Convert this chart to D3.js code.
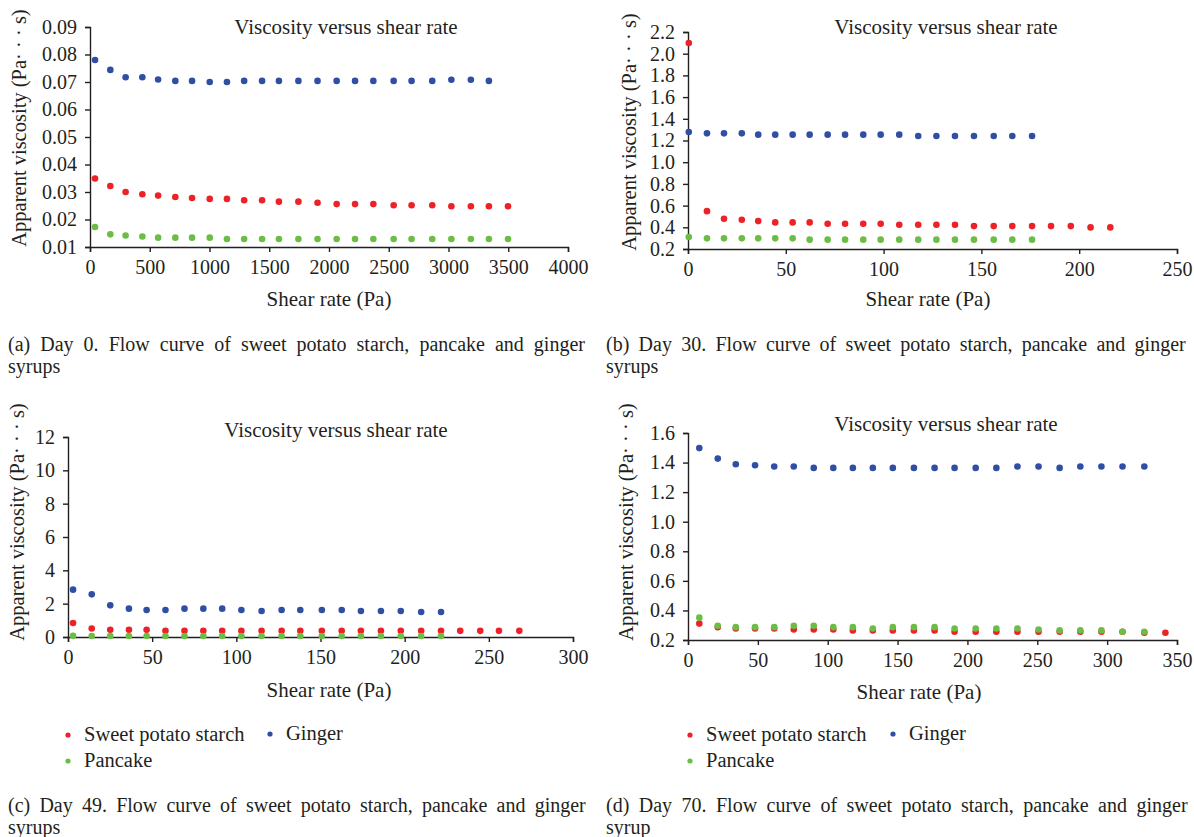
<!DOCTYPE html>
<html>
<head>
<meta charset="utf-8">
<script src="https://cdn.jsdelivr.net/npm/d3@7"></script>
<style>
  body { margin: 0; background: #fff; }
  svg text { font-family: "Liberation Serif", "Times New Roman", "DejaVu Serif", serif; fill: #231f20; }
</style>
</head>
<body>
<svg id="chart" width="1194" height="837"></svg>
<script>
// series labels + colours
const seriesNames = ["Sweet potato starch", "Pancake", "Ginger"];
const seriesColors = ["#ec2227", "#6cbd45", "#2e4fa3"];

// Day 0
const day0Shear = [42,170,298,438,570,714,854,1002,1146,1290,1440,1581,1744,1904,2064,2218,2371,2541,2691,2864,3024,3187,3338,3498];
const day0Sweet = [0.0349,0.0322,0.0300,0.0292,0.0287,0.0282,0.0278,0.0275,0.0275,0.0270,0.0270,0.0265,0.0265,0.0261,0.0256,0.0256,0.0256,0.0252,0.0252,0.0252,0.0248,0.0248,0.0248,0.0248];
const day0Pancake = [0.0173,0.0146,0.0142,0.0138,0.0134,0.0134,0.0134,0.0134,0.0129,0.0129,0.0129,0.0129,0.0129,0.0129,0.0129,0.0129,0.0129,0.0129,0.0129,0.0129,0.0129,0.0129,0.0129,0.0129];
const day0Ginger = [0.0780,0.0744,0.0717,0.0717,0.0709,0.0704,0.0704,0.0700,0.0700,0.0704,0.0704,0.0704,0.0704,0.0704,0.0704,0.0704,0.0704,0.0704,0.0704,0.0704,0.0708,0.0708,0.0704];

// Day 30
const day30Shear = [0.4,9.7,18.4,27.5,35.9,44.6,53.5,62.2,71.4,80.3,89.6,98.5,108.0,117.7,127.0,136.5,146.2,156.3,165.8,175.9,185.6,195.7,205.8,215.9];
const day30Sweet = [2.099,0.549,0.479,0.470,0.457,0.445,0.445,0.445,0.433,0.433,0.433,0.433,0.424,0.424,0.424,0.424,0.411,0.411,0.411,0.411,0.411,0.411,0.399,0.399];
const day30Pancake = [0.310,0.298,0.298,0.298,0.298,0.298,0.298,0.286,0.286,0.286,0.286,0.286,0.286,0.286,0.286,0.286,0.286,0.286,0.286,0.286];
const day30Ginger = [1.278,1.266,1.266,1.266,1.254,1.254,1.254,1.254,1.254,1.254,1.254,1.254,1.254,1.241,1.241,1.241,1.241,1.241,1.241,1.241];

// Day 49
const day49Shear = [3.0,14.1,25.1,36.2,46.7,57.9,69.2,80.4,91.6,103.0,115.0,126.9,138.0,150.8,162.6,174.0,185.9,197.7,209.8,221.6,233.0,244.9,256.0,268.1];
const day49Sweet = [0.84,0.51,0.43,0.43,0.43,0.37,0.37,0.37,0.37,0.37,0.37,0.37,0.37,0.37,0.37,0.37,0.37,0.37,0.37,0.37,0.37,0.37,0.37,0.37];
const day49Pancake = [0.07,0.06,0.06,0.06,0.06,0.06,0.06,0.06,0.06,0.06,0.06,0.06,0.06,0.06,0.06,0.06,0.06,0.06,0.06,0.06];
const day49Ginger = [2.84,2.56,1.90,1.70,1.62,1.62,1.70,1.70,1.70,1.62,1.56,1.62,1.62,1.62,1.62,1.56,1.56,1.56,1.50,1.50];

// Day 70
const day70Shear = [8.1,21.3,34.2,48.0,61.7,75.7,90.0,104.0,118.0,132.3,146.6,161.7,176.5,190.8,205.9,220.7,235.8,250.9,266.0,280.8,295.9,311.0,326.6,341.7];
const day70Sweet = [0.311,0.287,0.278,0.278,0.278,0.271,0.271,0.271,0.265,0.265,0.265,0.265,0.265,0.256,0.256,0.256,0.256,0.256,0.256,0.256,0.256,0.256,0.249,0.249];
const day70Pancake = [0.351,0.296,0.287,0.287,0.287,0.296,0.296,0.287,0.287,0.278,0.287,0.287,0.287,0.278,0.278,0.278,0.278,0.271,0.265,0.265,0.265,0.256,0.256];
const day70Ginger = [1.498,1.427,1.389,1.382,1.373,1.373,1.364,1.364,1.364,1.364,1.364,1.364,1.364,1.364,1.364,1.364,1.373,1.373,1.364,1.373,1.373,1.373,1.373];

const titleText = "Viscosity versus shear rate";
const xLabelText = "Shear rate (Pa)";
const yLabelText = "Apparent viscosity (Pa\u00b7 \u00b7 \u00b7 s)";

const svg = d3.select("#chart");

var panels = [
	{ xs: day0Shear, ys: [day0Sweet, day0Pancake, day0Ginger], xdom: [0,4000], xstep: 500, ydom: [0.01,0.09], ystep: 0.01, yfmt: d3.format(".2f"),
	  box: {l: 90, r: 568, t: 27, b: 247}, title: [346, 34], xlab: [329, 306], ylab: [19, 128],
	  caption: ["(a)  Day 0. Flow curve of sweet potato starch, pancake and ginger", "syrups"], cap: [8, 351, 582], legend: null },
	{ xs: day30Shear, ys: [day30Sweet, day30Pancake, day30Ginger], xdom: [0,250], xstep: 50, ydom: [0.2,2.2], ystep: 0.2, yfmt: d3.format(".1f"),
	  box: {l: 688, r: 1177, t: 32, b: 249}, title: [946, 34], xlab: [928, 306], ylab: [629, 132],
	  caption: ["(b)  Day 30. Flow curve of sweet potato starch, pancake and ginger", "syrups"], cap: [606, 351, 584], legend: null },
	{ xs: day49Shear, ys: [day49Sweet, day49Pancake, day49Ginger], xdom: [0,300], xstep: 50, ydom: [0,12], ystep: 2, yfmt: d3.format("d"),
	  box: {l: 68, r: 573, t: 437, b: 637}, title: [336, 437], xlab: [329, 697], ylab: [17, 522],
	  caption: ["(c)  Day 49. Flow curve of sweet potato starch, pancake and ginger", "syrups"], cap: [8, 812, 582], legend: [68, 270] },
	{ xs: day70Shear, ys: [day70Sweet, day70Pancake, day70Ginger], xdom: [0,350], xstep: 50, ydom: [0.2,1.6], ystep: 0.2, yfmt: d3.format(".1f"),
	  box: {l: 688, r: 1177, t: 433, b: 640}, title: [946, 431], xlab: [919, 699], ylab: [626, 522],
	  caption: ["(d)  Day 70. Flow curve of sweet potato starch, pancake and ginger", "syrup"], cap: [606, 812, 586], legend: [690, 893] }
];

panels.forEach(drawPanel);

function drawPanel(p){
	var g = svg.append("g");
	var x = d3.scaleLinear().domain(p.xdom).range([p.box.l, p.box.r]);
	var y = d3.scaleLinear().domain(p.ydom).range([p.box.b, p.box.t]);

	var xticks = d3.range(p.xdom[0], p.xdom[1] + p.xstep/2, p.xstep);
	var yticks = d3.range(0, Math.round((p.ydom[1]-p.ydom[0])/p.ystep) + 1).map(i => p.ydom[0] + i*p.ystep);

	var xa = g.append("g")
		.attr("transform", "translate(0," + p.box.b + ")")
		.call(d3.axisBottom(x).tickValues(xticks).tickSize(5).tickPadding(8).tickFormat(d3.format("d")));
	var ya = g.append("g")
		.attr("transform", "translate(" + p.box.l + ",0)")
		.call(d3.axisLeft(y).tickValues(yticks).tickSize(5).tickPadding(8).tickFormat(p.yfmt));
	[xa, ya].forEach(function(a){
		a.attr("font-family", null).attr("font-size", null);
		a.selectAll("path, line").attr("stroke", "#231f20").attr("stroke-width", 1.4);
		a.selectAll("text").style("font-size", "20px").attr("fill", "#231f20");
	});

	// points
	p.ys.forEach(function(vals, si){
		g.append("g").selectAll("circle")
			.data(vals)
			.enter()
			.append("circle")
				.attr("cx", (d, i) => x(p.xs[i]))
				.attr("cy", d => y(d))
				.attr("r", 3.3)
				.attr("fill", seriesColors[si]);
	});

	g.append("text").attr("x", p.title[0]).attr("y", p.title[1])
		.attr("text-anchor", "middle").style("font-size", "21px").text(titleText);
	g.append("text").attr("x", p.xlab[0]).attr("y", p.xlab[1])
		.attr("text-anchor", "middle").style("font-size", "21px").text(xLabelText);
	g.append("text")
		.attr("transform", "translate(" + (p.ylab[0] + 7) + "," + p.ylab[1] + ") rotate(-90)")
		.attr("text-anchor", "middle").style("font-size", "20.5px").text(yLabelText);

	// caption, first line justified by widening the word gaps
	var c1 = g.append("text").attr("x", p.cap[0]).attr("y", p.cap[1])
		.style("font-size", "20px").text(p.caption[0]);
	var natural = c1.node().getComputedTextLength();
	var gaps = p.caption[0].split(" ").length - 1;
	if (natural < p.cap[2]) c1.style("word-spacing", ((p.cap[2] - natural) / gaps) + "px");
	else c1.attr("textLength", p.cap[2]).attr("lengthAdjust", "spacingAndGlyphs");
	g.append("text").attr("x", p.cap[0]).attr("y", p.cap[1] + 22)
		.style("font-size", "20px").text(p.caption[1]);

	if (p.legend){
		var items = [
			{name: seriesNames[0], c: seriesColors[0], x: p.legend[0], y: 735},
			{name: seriesNames[2], c: seriesColors[2], x: p.legend[1], y: 734},
			{name: seriesNames[1], c: seriesColors[1], x: p.legend[0], y: 761}
		];
		var lg = g.append("g").selectAll("g").data(items).enter().append("g");
		lg.append("circle").attr("cx", d => d.x).attr("cy", d => d.y).attr("r", 2.6).attr("fill", d => d.c);
		lg.append("text").attr("x", d => d.x + 16).attr("y", d => d.y + 6)
			.style("font-size", "20.5px").text(d => d.name);
	}
}
</script>
</body>
</html>
